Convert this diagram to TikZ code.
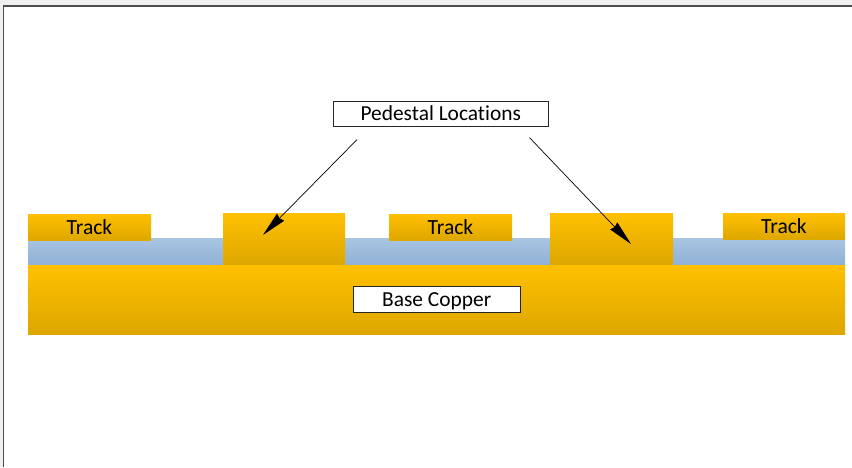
\documentclass[tikz,border=0pt]{standalone}
\usepackage{fontspec}
\setmainfont[RawFeature={-liga}]{Carlito}
\usetikzlibrary{arrows.meta,positioning}
\definecolor{goldtop}{HTML}{FFC000}
\definecolor{goldbot}{HTML}{DDA700}
\definecolor{bluetop}{HTML}{A9C5E1}
\definecolor{bluebot}{HTML}{8FB1D6}
\definecolor{outside}{HTML}{F0F0F0}
\tikzset{
  x=1pt,y=-1pt,
  metal/.style={rectangle,inner sep=0pt,outer sep=0pt,anchor=north west,top color=goldtop,bottom color=goldbot,draw=none,font=\fontsize{21.6pt}{24pt}\selectfont,text=black},
  resin/.style={rectangle,inner sep=0pt,outer sep=0pt,anchor=north west,top color=bluetop,bottom color=bluebot,draw=none},
  labelbox/.style={rectangle,inner sep=0pt,outer sep=0pt,anchor=north west,fill=white,draw=black!85,line width=0.9pt,font=\fontsize{21.4pt}{24pt}\selectfont},
  pointer/.style={draw=black,line width=0.7pt,-{Stealth[length=25pt,width=10pt,inset=1.5pt]}},
}
\begin{document}
\begin{tikzpicture}
\useasboundingbox (0,0) rectangle (852,467);
\fill[outside] (0,0) rectangle (852,467);
\fill[white] (3.5,6) rectangle (852,467);
\draw[black!70,line width=1.2pt] (3.8,467) -- (3.8,6) -- (852,6);
\node[resin,minimum width=817pt,minimum height=27pt] (blue) at (28,238) {};
\node[metal,minimum width=817pt,minimum height=69.6pt] (base) at (28,265) {};
\node[metal,minimum width=123pt,minimum height=26.6pt] (trackA) at (28,214) {Track};
\node[metal,minimum width=122pt,minimum height=51.6pt] (pedA) at (223,213) {};
\node[metal,minimum width=123pt,minimum height=26.6pt] (trackB) at (389,214) {Track};
\node[metal,minimum width=123pt,minimum height=51.6pt] (pedB) at (550,213) {};
\node[metal,minimum width=122pt,minimum height=26.6pt] (trackC) at (723,213) {Track};
\node[labelbox,minimum width=215.5pt,minimum height=25.6pt,text depth=2pt] (ped) at (333,101) {Pedestal Locations};
\node[labelbox,minimum width=167.5pt,minimum height=26.6pt,text height=17pt] (cu) at (353,286) {Base Copper};
\coordinate (tipA) at (263,235);
\coordinate (tipB) at (631,244);
\coordinate (startA) at ([shift={(24,13)}]ped.south west);
\coordinate (startB) at ([shift={(-19,11)}]ped.south east);
\draw[pointer] (startA) -- (tipA);
\draw[pointer] (startB) -- (tipB);
\end{tikzpicture}
\end{document}
